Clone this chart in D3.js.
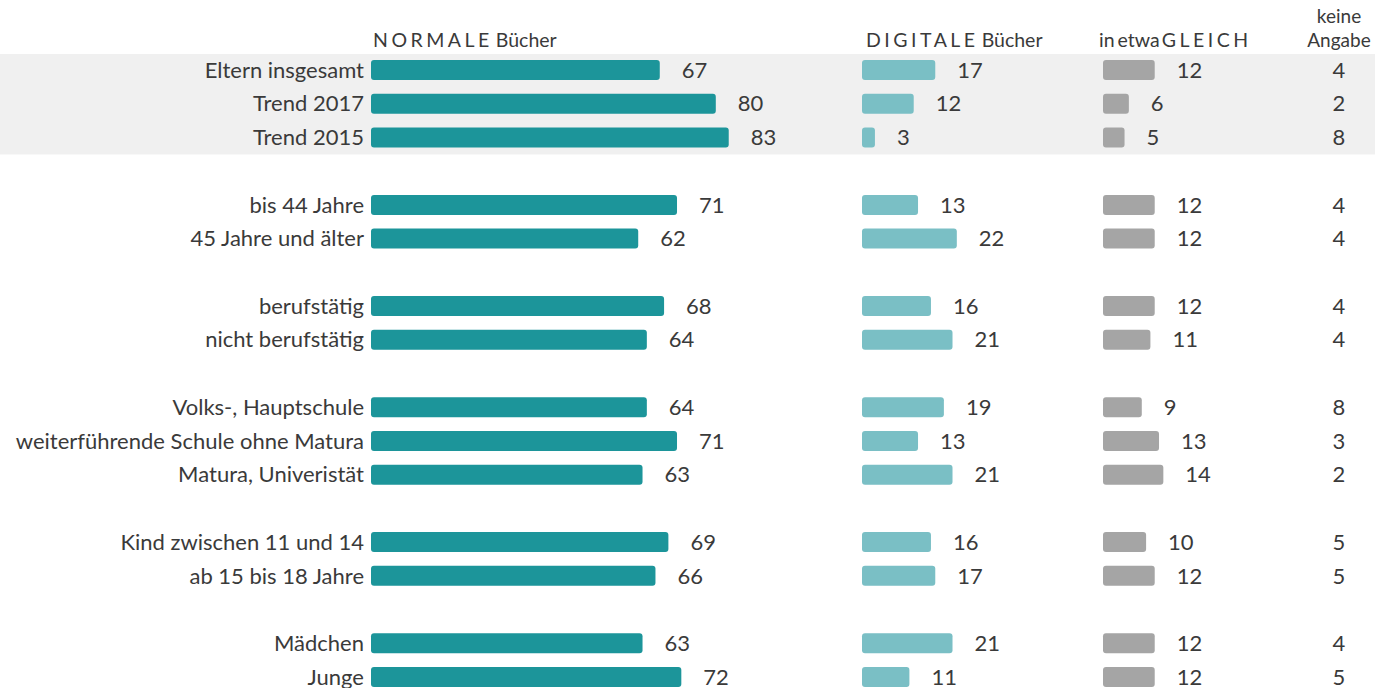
<!DOCTYPE html>
<html>
<head>
<meta charset="utf-8">
<script src="https://cdn.jsdelivr.net/npm/d3@7"></script>
<style>
  html, body { margin: 0; padding: 0; background: #fff; }
  svg text { font-family: Lato, "Noto Sans", sans-serif; fill: #3a3a3a; }
</style>
</head>
<body>
<svg id="viz"></svg>
<script>
(function () {
  'use strict';

  const categories = [
    'Eltern insgesamt', 'Trend 2017', 'Trend 2015',
    'bis 44 Jahre', '45 Jahre und älter',
    'berufstätig', 'nicht berufstätig',
    'Volks-, Hauptschule', 'weiterführende Schule ohne Matura', 'Matura, Univeristät',
    'Kind zwischen 11 und 14', 'ab 15 bis 18 Jahre',
    'Mädchen', 'Junge'
  ];
  const groupOf = [0, 0, 0, 1, 1, 2, 2, 3, 3, 3, 4, 4, 5, 5];
  const normal = [67, 80, 83, 71, 62, 68, 64, 64, 71, 63, 69, 66, 63, 72];
  const digital = [17, 12, 3, 13, 22, 16, 21, 19, 13, 21, 16, 17, 21, 11];
  const gleich = [12, 6, 5, 12, 12, 12, 11, 9, 13, 14, 10, 12, 12, 12];
  const keine = [4, 2, 8, 4, 4, 4, 4, 8, 3, 2, 5, 5, 4, 5];

  const width = 1375;
  const height = 688;
  const barH = 20;
  const fs = '22px';

  const svg = d3.select('#viz')
    .attr('width', width)
    .attr('height', height);

  // one blank slot between groups
  const y = d3.scaleLinear()
    .domain([0, 18])
    .range([70, 677]);
  const slot = i => i + groupOf[i];

  const x = d3.scaleLinear()
    .domain([0, 100])
    .range([0, 431]);

  // shaded band behind the total + trend rows
  svg.append('rect')
    .attr('x', 0)
    .attr('y', y(0) - 16)
    .attr('width', width)
    .attr('height', y(2) - y(0) + 33)
    .attr('fill', '#f0f0f0');

  const cols = [
    { values: normal, x0: 371, color: '#1c959a' },
    { values: digital, x0: 862, color: '#7abfc5' },
    { values: gleich, x0: 1103, color: '#a5a5a5' }
  ];

  // row labels
  svg.selectAll('.label')
    .data(categories)
    .enter()
    .append('text')
      .attr('class', 'label')
      .attr('x', 364)
      .attr('y', (d, i) => y(slot(i)))
      .attr('dy', '0.35em')
      .attr('text-anchor', 'end')
      .style('font-size', fs)
      .text(d => d);

  cols.forEach(col => {
    const g = svg.append('g').attr('transform', `translate(${col.x0},0)`);
    g.selectAll('rect')
      .data(col.values)
      .enter()
      .append('rect')
        .attr('x', 0)
        .attr('y', (d, i) => y(slot(i)) - barH / 2)
        .attr('width', d => x(d))
        .attr('height', barH)
        .attr('rx', 3)
        .attr('fill', col.color);
    g.selectAll('text')
      .data(col.values)
      .enter()
      .append('text')
        .attr('x', d => x(d) + 22)
        .attr('y', (d, i) => y(slot(i)))
        .attr('dy', '0.35em')
        .style('font-size', fs)
        .text(d => d);
  });

  svg.selectAll('.keine')
    .data(keine)
    .enter()
    .append('text')
      .attr('class', 'keine')
      .attr('x', 1339)
      .attr('y', (d, i) => y(slot(i)))
      .attr('dy', '0.35em')
      .attr('text-anchor', 'middle')
      .style('font-size', fs)
      .text(d => d);

  // column headers, caps words are letter-spaced
  function header(xPos, parts) {
    const t = svg.append('text')
      .attr('x', xPos)
      .attr('y', 47)
      .style('font-size', '19.5px');
    parts.forEach(p => {
      t.append('tspan')
        .attr('dx', p.dx || 0)
        .style('letter-spacing', p.caps ? '3.5px' : '0px')
        .style('word-spacing', p.ws || '0px')
        .text(p.text);
    });
  }
  header(373, [{ text: 'NORMALE', caps: true }, { text: 'Bücher', dx: 3 }]);
  header(866, [{ text: 'DIGITALE', caps: true }, { text: 'Bücher', dx: 3 }]);
  header(1099, [{ text: 'in etwa', ws: '-2px' }, { text: 'GLEICH', caps: true, dx: 2 }]);

  svg.append('text')
    .attr('x', 1339)
    .attr('y', 23)
    .attr('text-anchor', 'middle')
    .style('font-size', '19px')
    .text('keine');
  svg.append('text')
    .attr('x', 1339)
    .attr('y', 47)
    .attr('text-anchor', 'middle')
    .style('font-size', '19px')
    .text('Angabe');
}());
</script>
</body>
</html>
